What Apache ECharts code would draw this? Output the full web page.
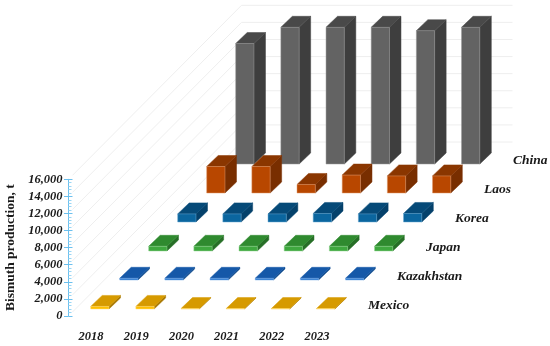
<!DOCTYPE html>
<html lang="en">
  <head>
    <meta charset="UTF-8" />
    <title>Bismuth production</title>
    <script src="https://cdn.jsdelivr.net/npm/echarts@6/dist/echarts.min.js"></script>
    <style>
      html, body { margin: 0; padding: 0; background: #fff; }
      #chart { width: 550px; height: 346px; }
    </style>
  </head>
  <body>
    <div id="chart"></div>
    <script>
      // values, tonnes
      var years = ['2018', '2019', '2020', '2021', '2022', '2023'];
      var countries = ['China', 'Laos', 'Korea', 'Japan', 'Kazakhstan', 'Mexico'];
      var china = [14100, 16000, 16000, 16000, 15600, 16000];
      var laos = [3100, 3100, 1000, 2100, 2000, 2000];
      var korea = [950, 950, 950, 1000, 950, 1000];
      var japan = [550, 550, 550, 550, 550, 550];
      var kazakhstan = [200, 200, 200, 200, 200, 200];
      var mexico = [300, 300, 50, 50, 50, 50];
      var yTicks = [0, 2000, 4000, 6000, 8000, 10000, 12000, 14000, 16000];

      // front, side, top, edge
      var palette = [
        ['#636363', '#3e3e3e', '#494949', '#9a9a9a'],
        ['#b84700', '#782e00', '#8a3600', '#e09a6a'],
        ['#0b669f', '#04416b', '#064a78', '#6aa8d0'],
        ['#3fa83f', '#276f27', '#2f8a2f', '#96d696'],
        ['#2a78d0', '#0f4a8c', '#1558a8', '#80b0e6'],
        ['#ffc000', '#a87800', '#d69a00', '#ffdc80']
      ];
      var rows = [china, laos, korea, japan, kazakhstan, mexico];

      // fake 3d: how far one row sits behind the next
      var rowDx = 29, rowDy = 29;
      var firstDx = 8.75, firstDy = 7;
      var depthDx = 11.5, depthDy = 11;
      var backDx = 173, backDy = 174;
      var barRatio = 18.3 / 45.2;

      function poly(points, fill, stroke) {
        return {
          type: 'polygon',
          shape: { points: points },
          style: { fill: fill, stroke: stroke, lineWidth: 0.5 }
        };
      }

      function barItem(rowIdx) {
        return function (params, api) {
          var back = rows.length - 1 - rowIdx;
          var sx = firstDx + back * rowDx;
          var sy = firstDy + back * rowDy;
          var base = api.coord([api.value(0), 0]);
          var top = api.coord([api.value(0), api.value(1)]);
          var w = api.size([1, 0])[0] * barRatio;
          var x0 = base[0] - w / 2 + sx, x1 = x0 + w;
          var yb = base[1] - sy, yt = top[1] - sy;
          var c = palette[rowIdx];
          return {
            type: 'group',
            children: [
              poly([[x1, yb], [x1 + depthDx, yb - depthDy], [x1 + depthDx, yt - depthDy], [x1, yt]], c[1], c[1]),
              poly([[x0, yt], [x1, yt], [x1 + depthDx, yt - depthDy], [x0 + depthDx, yt - depthDy]], c[2], c[2]),
              poly([[x0, yb], [x1, yb], [x1, yt], [x0, yt]], c[0], c[3])
            ]
          };
        };
      }

      // side wall diagonal plus back wall line for every tick
      function wallItem(params, api) {
        var p = api.coord([0, api.value(0)]);
        var x = p[0] - api.size([1, 0])[0] / 2;
        var xEnd = x + api.size([1, 0])[0] * years.length;
        var style = { stroke: '#eeeeee', lineWidth: 1, fill: 'none' };
        return {
          type: 'group',
          children: [
            { type: 'line', shape: { x1: x + 4, y1: p[1] - 4, x2: x + backDx, y2: p[1] - backDy }, style: style },
            { type: 'line', shape: { x1: x + backDx, y1: p[1] - backDy, x2: xEnd + backDx, y2: p[1] - backDy }, style: style }
          ]
        };
      }

      function countryItem(params, api) {
        var idx = api.value(0);
        var p = api.coord([years.length - 1, 0]);
        var back = rows.length - 1 - idx;
        return {
          type: 'text',
          x: p[0] + 51 + back * rowDx,
          y: p[1] - 10.5 - back * rowDy,
          style: {
            text: countries[idx],
            fill: '#1a1a1a',
            font: 'italic bold 13.5px "Liberation Serif"',
            align: 'left',
            verticalAlign: 'middle'
          }
        };
      }

      var series = [
        {
          type: 'custom',
          name: 'walls',
          silent: true,
          renderItem: wallItem,
          data: yTicks.map(function (v) { return [v]; }),
          encode: { y: 0 }
        }
      ];
      rows.forEach(function (vals, i) {
        series.push({
          type: 'custom',
          name: countries[i],
          renderItem: barItem(i),
          data: vals.map(function (v, j) { return [j, v]; }),
          encode: { x: 0, y: 1 }
        });
      });
      series.push({
        type: 'custom',
        name: 'countries',
        silent: true,
        renderItem: countryItem,
        data: countries.map(function (c, i) { return [i]; })
      });

      var tickFont = {
        fontFamily: 'Liberation Serif',
        fontWeight: 'bold',
        fontStyle: 'italic',
        fontSize: 12.5,
        color: '#1a1a1a'
      };

      var chart = echarts.init(document.getElementById('chart'));
      chart.setOption({
        animation: false,
        grid: { left: 68.5, top: 179.3, width: 271, height: 136.7, outerBoundsMode: 'none' },
        xAxis: {
          type: 'category',
          data: years,
          axisLine: { show: false },
          axisTick: { show: false },
          axisLabel: Object.assign({ margin: 14 }, tickFont)
        },
        yAxis: [
          {
            type: 'value',
            min: 0,
            max: 16000,
            interval: 2000,
            name: 'Bismuth production, t',
            nameLocation: 'middle',
            nameGap: 51,
            nameRotate: 90,
            nameTextStyle: {
              fontFamily: 'Liberation Serif',
              fontWeight: 'bold',
              fontSize: 13.5,
              color: '#1a1a1a'
            },
            axisLine: { show: true, lineStyle: { color: '#6cc0ee', width: 1 } },
            axisTick: { show: true, length: 4.5, lineStyle: { color: '#6cc0ee' } },
            axisLabel: Object.assign({
              margin: 6,
              formatter: function (v) { return v.toLocaleString('en-US'); }
            }, tickFont),
            splitLine: { show: false }
          },
          {
            type: 'value',
            position: 'left',
            min: 0,
            max: 16000,
            interval: 2000,
            axisLine: { show: false },
            axisTick: { show: true, inside: true, length: 4, lineStyle: { color: '#6cc0ee' } },
            minorTick: { show: true, splitNumber: 5, length: 3, lineStyle: { color: '#9ad6f5' } },
            axisLabel: { show: false },
            splitLine: { show: false }
          }
        ],
        series: series
      });
    </script>
  </body>
</html>
